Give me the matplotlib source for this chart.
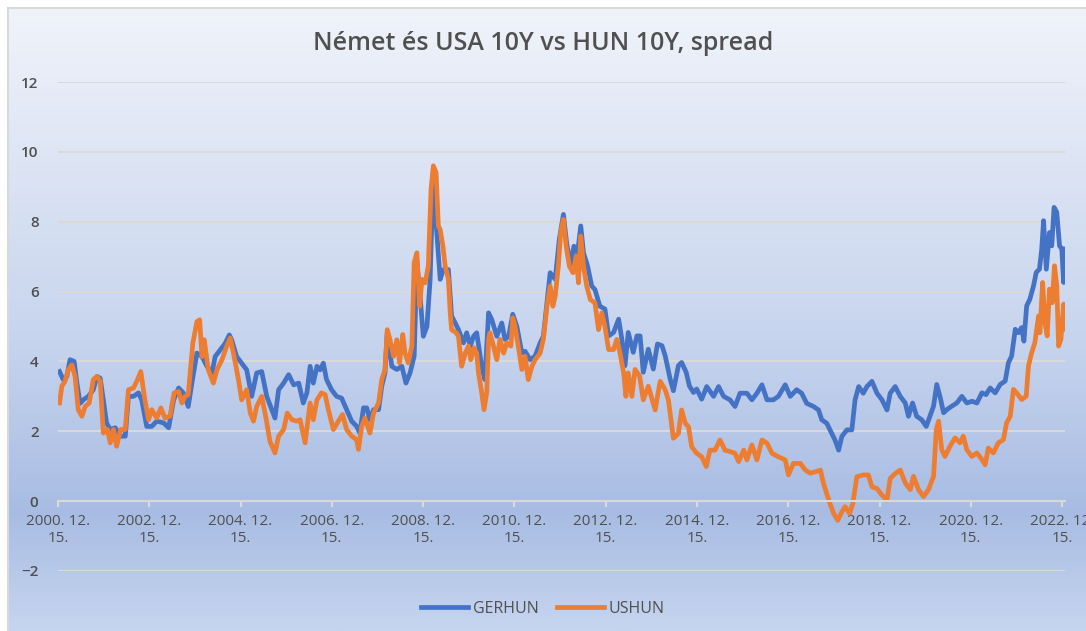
import numpy as np
import matplotlib.pyplot as plt
from matplotlib.colors import LinearSegmentedColormap

# GERHUN spread (decimal year, value)
ger_years = [2000.99, 2001.07, 2001.15, 2001.22, 2001.31, 2001.37, 2001.44, 2001.51, 2001.62, 2001.73,
             2001.81, 2001.88, 2001.95, 2002.02, 2002.10, 2002.21, 2002.32, 2002.43, 2002.50, 2002.61,
             2002.72, 2002.79, 2002.90, 2003.01, 2003.12, 2003.27, 2003.38, 2003.49, 2003.60, 2003.70,
             2003.81, 2003.89, 2004.00, 2004.11, 2004.22, 2004.33, 2004.40, 2004.51, 2004.62, 2004.71,
             2004.76, 2004.87, 2004.98, 2005.09, 2005.20, 2005.31, 2005.42, 2005.53, 2005.64, 2005.71,
             2005.79, 2005.90, 2006.01, 2006.12, 2006.23, 2006.33, 2006.41, 2006.48, 2006.55, 2006.63,
             2006.70, 2006.77, 2006.84, 2006.95, 2007.06, 2007.17, 2007.28, 2007.39, 2007.50, 2007.57,
             2007.65, 2007.72, 2007.79, 2007.87, 2007.98, 2008.05, 2008.12, 2008.17, 2008.27, 2008.38,
             2008.49, 2008.58, 2008.67, 2008.76, 2008.82, 2008.89, 2008.96, 2009.04, 2009.11, 2009.18,
             2009.25, 2009.33, 2009.40, 2009.51, 2009.58, 2009.66, 2009.73, 2009.84, 2009.91, 2009.99,
             2010.06, 2010.13, 2010.24, 2010.31, 2010.39, 2010.46, 2010.57, 2010.68, 2010.75, 2010.83,
             2010.92, 2011.01, 2011.12, 2011.19, 2011.30, 2011.41, 2011.52, 2011.59, 2011.67, 2011.74,
             2011.85, 2011.94, 2012.03, 2012.10, 2012.19, 2012.26, 2012.34, 2012.41, 2012.47, 2012.56,
             2012.65, 2012.72, 2012.83, 2012.94, 2013.02, 2013.13, 2013.24, 2013.31, 2013.38, 2013.45,
             2013.56, 2013.64, 2013.71, 2013.78, 2013.89, 2014.00, 2014.09, 2014.19, 2014.26, 2014.37,
             2014.44, 2014.55, 2014.62, 2014.72, 2014.79, 2014.88, 2014.95, 2015.06, 2015.17, 2015.32,
             2015.43, 2015.54, 2015.68, 2015.79, 2015.90, 2016.05, 2016.16, 2016.27, 2016.38, 2016.49,
             2016.63, 2016.74, 2016.89, 2017.00, 2017.14, 2017.25, 2017.36, 2017.51, 2017.62, 2017.69,
             2017.80, 2017.91, 2017.98, 2018.06, 2018.13, 2018.24, 2018.35, 2018.42, 2018.50, 2018.60,
             2018.68, 2018.79, 2018.90, 2019.01, 2019.12, 2019.19, 2019.30, 2019.41, 2019.52, 2019.59,
             2019.68, 2019.77, 2019.88, 2019.98, 2020.06, 2020.14, 2020.21, 2020.28, 2020.36, 2020.43,
             2020.54, 2020.65, 2020.76, 2020.87, 2020.98, 2021.09, 2021.20, 2021.29, 2021.38, 2021.49,
             2021.60, 2021.71, 2021.78, 2021.85, 2021.93, 2022.00, 2022.07, 2022.12, 2022.18, 2022.25,
             2022.33, 2022.39, 2022.46, 2022.51, 2022.55, 2022.61, 2022.68, 2022.73, 2022.78, 2022.84,
             2022.90, 2022.95, 2022.99, 2023.01]
ger_vals = [3.71, 3.48, 3.57, 4.05, 4.00, 3.38, 2.80, 2.90, 3.00, 3.19,
            3.57, 3.52, 2.90, 2.24, 2.05, 2.10, 1.86, 1.86, 3.00, 3.00,
            3.10, 2.90, 2.14, 2.14, 2.29, 2.24, 2.10, 2.90, 3.24, 3.10,
            2.71, 3.38, 4.24, 4.14, 3.86, 3.67, 4.14, 4.33, 4.52, 4.76,
            4.62, 4.14, 3.95, 3.76, 3.00, 3.67, 3.71, 3.00, 2.62, 2.38,
            3.19, 3.38, 3.62, 3.33, 3.38, 2.81, 3.10, 3.86, 3.38, 3.86,
            3.76, 3.95, 3.48, 3.19, 3.00, 2.95, 2.62, 2.29, 2.14, 1.95,
            2.67, 2.67, 2.33, 2.62, 2.62, 3.29, 3.67, 4.82, 3.86, 3.77,
            3.86, 3.38, 3.67, 4.15, 6.83, 5.87, 4.72, 5.00, 6.35, 9.50,
            7.78, 6.35, 6.63, 6.63, 5.30, 5.10, 4.91, 4.53, 4.82, 4.44,
            4.72, 4.82, 3.86, 3.48, 5.39, 5.20, 4.72, 5.10, 4.63, 4.72,
            5.35, 5.00, 4.24, 4.29, 4.05, 4.15, 4.53, 4.72, 5.68, 6.54,
            6.35, 7.50, 8.21, 7.40, 6.73, 7.30, 7.11, 7.88, 7.11, 6.73,
            6.16, 6.06, 5.58, 5.50, 4.73, 4.83, 5.21, 4.64, 3.88, 4.83,
            4.26, 4.73, 4.73, 3.69, 4.35, 3.78, 4.50, 4.45, 4.16, 3.49,
            3.16, 3.88, 3.97, 3.69, 3.30, 3.11, 3.21, 2.92, 3.28, 3.00,
            3.28, 3.00, 2.90, 2.71, 3.09, 3.09, 2.90, 3.09, 3.33, 2.90,
            2.90, 3.00, 3.33, 3.00, 3.19, 3.09, 2.80, 2.71, 2.61, 2.33,
            2.23, 1.94, 1.75, 1.46, 1.85, 2.04, 2.04, 2.90, 3.28, 3.09,
            3.28, 3.43, 3.09, 2.90, 2.61, 3.09, 3.28, 3.00, 2.81, 2.43,
            2.81, 2.43, 2.33, 2.14, 2.43, 2.72, 3.34, 3.00, 2.53, 2.62,
            2.72, 2.81, 3.00, 2.81, 2.86, 2.81, 3.10, 3.05, 3.24, 3.10,
            3.34, 3.44, 3.96, 4.15, 4.92, 4.82, 4.97, 4.58, 5.59, 5.78,
            6.16, 6.55, 6.64, 7.22, 8.03, 6.64, 7.69, 7.31, 8.41, 8.27,
            7.31, 7.22, 6.26, 7.22]

# USHUN spread (decimal year, value)
us_years = [2000.99, 2001.04, 2001.11, 2001.18, 2001.26, 2001.33, 2001.40, 2001.48, 2001.55, 2001.64,
            2001.73, 2001.81, 2001.88, 2001.95, 2002.04, 2002.10, 2002.17, 2002.24, 2002.33, 2002.43,
            2002.50, 2002.61, 2002.70, 2002.77, 2002.86, 2002.94, 2003.01, 2003.12, 2003.21, 2003.30,
            2003.41, 2003.50, 2003.60, 2003.67, 2003.74, 2003.81, 2003.91, 2004.00, 2004.06, 2004.11,
            2004.16, 2004.25, 2004.36, 2004.44, 2004.55, 2004.65, 2004.73, 2004.80, 2004.91, 2004.98,
            2005.09, 2005.17, 2005.24, 2005.31, 2005.42, 2005.52, 2005.60, 2005.71, 2005.79, 2005.90,
            2005.98, 2006.08, 2006.19, 2006.26, 2006.37, 2006.48, 2006.55, 2006.63, 2006.73, 2006.81,
            2006.88, 2006.99, 2007.10, 2007.19, 2007.28, 2007.39, 2007.50, 2007.54, 2007.61, 2007.68,
            2007.79, 2007.87, 2007.98, 2008.05, 2008.12, 2008.17, 2008.23, 2008.31, 2008.38, 2008.44,
            2008.51, 2008.56, 2008.63, 2008.71, 2008.76, 2008.82, 2008.88, 2008.93, 2009.00, 2009.07,
            2009.13, 2009.18, 2009.24, 2009.29, 2009.33, 2009.39, 2009.44, 2009.51, 2009.55, 2009.58,
            2009.68, 2009.73, 2009.80, 2009.88, 2009.95, 2010.00, 2010.07, 2010.13, 2010.17, 2010.24,
            2010.29, 2010.35, 2010.39, 2010.42, 2010.48, 2010.57, 2010.64, 2010.72, 2010.79, 2010.88,
            2010.92, 2010.97, 2011.04, 2011.12, 2011.19, 2011.26, 2011.34, 2011.41, 2011.52, 2011.59,
            2011.67, 2011.74, 2011.80, 2011.85, 2011.92, 2011.97, 2012.03, 2012.09, 2012.16, 2012.24,
            2012.31, 2012.36, 2012.41, 2012.47, 2012.54, 2012.62, 2012.72, 2012.80, 2012.87, 2012.94,
            2013.02, 2013.13, 2013.20, 2013.27, 2013.35, 2013.40, 2013.45, 2013.53, 2013.60, 2013.70,
            2013.78, 2013.89, 2014.04, 2014.15, 2014.26, 2014.33, 2014.44, 2014.55, 2014.62, 2014.70,
            2014.77, 2014.84, 2014.95, 2015.06, 2015.16, 2015.24, 2015.35, 2015.46, 2015.57, 2015.68,
            2015.79, 2015.87, 2015.98, 2016.05, 2016.16, 2016.27, 2016.38, 2016.49, 2016.60, 2016.74,
            2016.89, 2016.96, 2017.07, 2017.22, 2017.33, 2017.44, 2017.55, 2017.66, 2017.73, 2017.80,
            2017.87, 2017.95, 2018.04, 2018.13, 2018.20, 2018.30, 2018.37, 2018.46, 2018.60, 2018.71,
            2018.79, 2018.90, 2019.01, 2019.12, 2019.19, 2019.30, 2019.41, 2019.52, 2019.63, 2019.70,
            2019.81, 2019.92, 2020.03, 2020.14, 2020.20, 2020.25, 2020.32, 2020.39, 2020.50, 2020.61,
            2020.72, 2020.79, 2020.87, 2020.98, 2021.09, 2021.20, 2021.27, 2021.34, 2021.45, 2021.56,
            2021.67, 2021.74, 2021.82, 2021.89, 2021.96, 2022.07, 2022.17, 2022.22, 2022.29, 2022.36,
            2022.44, 2022.47, 2022.53, 2022.58, 2022.63, 2022.68, 2022.74, 2022.79, 2022.84, 2022.88,
            2022.93, 2022.99, 2023.01]
us_vals = [2.81, 3.29, 3.43, 3.76, 3.90, 3.57, 2.62, 2.43, 2.71, 2.81,
           3.48, 3.57, 3.43, 1.95, 2.05, 1.67, 2.05, 1.57, 2.05, 2.05,
           3.19, 3.24, 3.48, 3.71, 2.90, 2.33, 2.62, 2.38, 2.67, 2.38,
           2.43, 3.10, 3.14, 2.81, 3.00, 3.05, 4.52, 5.14, 5.19, 4.14,
           4.62, 3.76, 3.38, 3.76, 4.05, 4.43, 4.67, 4.24, 3.48, 2.90,
           3.19, 2.52, 2.29, 2.71, 3.00, 2.33, 1.71, 1.38, 1.86, 2.05,
           2.52, 2.33, 2.29, 2.33, 1.67, 2.81, 2.33, 2.90, 3.10, 3.05,
           2.62, 2.05, 2.29, 2.48, 2.05, 1.86, 1.76, 1.48, 2.14, 2.38,
           1.95, 2.52, 2.81, 3.48, 3.76, 4.91, 4.62, 4.15, 4.62, 3.96,
           4.77, 4.24, 3.96, 4.44, 6.83, 7.11, 5.58, 6.35, 6.25, 6.73,
           8.93, 9.60, 9.41, 7.88, 7.78, 7.30, 6.73, 6.35, 5.39, 4.91,
           4.82, 4.72, 3.86, 4.24, 4.44, 4.05, 4.39, 4.24, 3.67, 3.10,
           2.62, 3.10, 4.63, 4.82, 4.53, 4.05, 4.63, 4.24, 4.53, 4.44,
           5.25, 5.00, 4.44, 3.77, 4.15, 3.48, 3.86, 4.05, 4.24, 4.63,
           5.58, 6.16, 5.58, 5.87, 6.73, 7.69, 8.07, 7.30, 6.73, 6.54,
           7.02, 6.25, 7.59, 6.73, 6.16, 5.77, 5.68, 4.91, 5.39, 5.00,
           4.34, 4.34, 4.63, 4.24, 3.67, 3.00, 3.67, 3.00, 3.77, 3.58,
           2.90, 3.29, 2.61, 3.43, 3.19, 2.90, 1.80, 1.94, 2.61, 2.23,
           2.13, 1.56, 1.37, 1.27, 0.99, 1.46, 1.46, 1.75, 1.46, 1.42,
           1.37, 1.13, 1.46, 1.18, 1.61, 1.18, 1.75, 1.66, 1.37, 1.27,
           1.18, 0.75, 1.08, 1.08, 0.89, 0.80, 0.84, 0.89, 0.50, 0.22,
           -0.07, -0.35, -0.55, -0.31, -0.16, -0.35, -0.07, 0.70, 0.75, 0.75,
           0.41, 0.36, 0.17, 0.03, 0.65, 0.79, 0.89, 0.52, 0.33, 0.71,
           0.33, 0.13, 0.33, 0.71, 2.05, 2.29, 1.47, 1.28, 1.57, 1.81,
           1.67, 1.86, 1.47, 1.28, 1.38, 1.19, 1.04, 1.52, 1.38, 1.67,
           1.76, 2.24, 2.43, 3.20, 3.10, 2.91, 3.00, 3.87, 4.25, 4.54,
           5.30, 4.82, 6.26, 5.11, 4.73, 6.07, 5.68, 6.74, 6.16, 4.44,
           4.63, 5.64, 4.92]

tick_years = list(range(2000, 2023, 2))
tick_labels = [f"{y}. 12.\n15." for y in tick_years]

TXT = "#505050"
GRID = "#D9D9D9"
plt.rcParams["font.family"] = ["Open Sans", "DejaVu Sans"]

W, H = 1086, 631
fig = plt.figure(figsize=(W / 100, H / 100), dpi=100)
fig.patch.set_facecolor("white")

# chart area with vertical gradient fill
bg = fig.add_axes([8 / W, 0, 1 - 8 / W, 1 - 8 / H])
cmap = LinearSegmentedColormap.from_list(
    "bg", [(0.0, "#F0F3FA"), (0.52, "#C8D5EE"), (0.81, "#A8BCE3"), (1.0, "#C6D5EF")])
bg.imshow(np.linspace(0, 1, 256).reshape(-1, 1), aspect="auto", cmap=cmap,
          extent=[0, 1, 0, 1])
bg.set_xticks([])
bg.set_yticks([])
for side in ["right", "bottom"]:
    bg.spines[side].set_visible(False)
for side in ["left", "top"]:
    bg.spines[side].set_color(GRID)
    bg.spines[side].set_linewidth(1.5)

ax = fig.add_axes([58 / W, 1 - 571 / H, (1065 - 58) / W, (571 - 82) / H])
ax.set_facecolor("none")

ax.plot(ger_years, ger_vals, color="#4472C4", lw=3.4, label="GERHUN", solid_joinstyle="round")
ax.plot(us_years, us_vals, color="#ED7D31", lw=3.4, label="USHUN", solid_joinstyle="round")

ax.set_ylim(-2, 12)
ax.set_yticks(range(-2, 13, 2))
ax.set_xlim(2000 + 349 / 365, 2023.02)
ax.set_xticks([y + 349 / 365 for y in tick_years])
ax.set_xticklabels(tick_labels, linespacing=1.7, fontweight="semibold")
for lab in ax.get_yticklabels():
    lab.set_fontweight("semibold")
ax.grid(axis="y", color=GRID, lw=1.5)
ax.set_axisbelow(True)

for side in ["left", "right", "top"]:
    ax.spines[side].set_visible(False)
ax.spines["bottom"].set_position(("data", 0))
ax.spines["bottom"].set_color(GRID)
ax.spines["bottom"].set_linewidth(1.5)

ax.tick_params(axis="y", length=0, pad=14, labelcolor=TXT, labelsize=11)
ax.tick_params(axis="x", length=4, width=1.5, color=GRID, pad=5, labelcolor=TXT, labelsize=11)

fig.text(0.5, 1 - 43 / H, "Német és USA 10Y vs HUN 10Y, spread", ha="center", va="center",
         fontsize=18, fontweight="semibold", color=TXT)

fig.legend(loc="center", bbox_to_anchor=(0.5, 1 - 609 / H), ncol=2, frameon=False,
           fontsize=11.5, labelcolor=TXT, handlelength=2.9, handletextpad=0.3,
           columnspacing=1.2)

fig.savefig("out.png", dpi=100)
